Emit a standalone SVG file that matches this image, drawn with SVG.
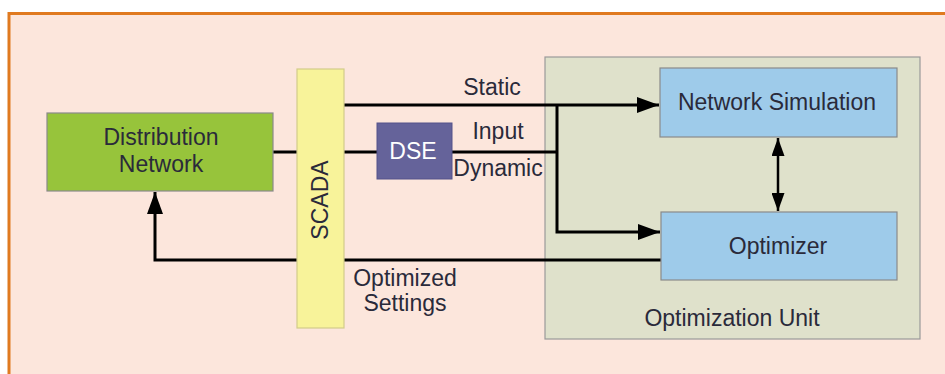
<svg xmlns="http://www.w3.org/2000/svg" width="945" height="374" viewBox="0 0 945 374">
<defs>
<style>
text{font-family:"Liberation Sans",Arial,sans-serif;font-size:23px;fill:#2a2a3a}
.c{stroke:#000;stroke-width:3;fill:none}
.box{stroke:#8a8a8a;stroke-width:1.2}
</style>
<marker id="ahL" viewBox="0 0 10 10" refX="10" refY="5" markerWidth="22" markerHeight="16" markerUnits="userSpaceOnUse" orient="auto-start-reverse" preserveAspectRatio="none"><path d="M0,0 L10,5 L0,10 z" fill="#000"/></marker>
<marker id="ahS" viewBox="0 0 10 10" refX="10" refY="5" markerWidth="18" markerHeight="13" markerUnits="userSpaceOnUse" orient="auto-start-reverse" preserveAspectRatio="none"><path d="M0,0 L10,5 L0,10 z" fill="#000"/></marker>
</defs>
<rect x="0" y="0" width="945" height="374" fill="#fff"/>
<rect x="10" y="14" width="940" height="365" fill="#fce6dc"/>
<path d="M9,374 V13.5 H945" stroke="#e07a20" stroke-width="3" fill="none"/>

<g id="optimization-unit">
<rect x="545" y="57" width="375" height="282" fill="#dfe1cb" stroke="#9a9a9a" stroke-width="1.2"/>
<text x="732" y="326" text-anchor="middle">Optimization Unit</text>
</g>

<g id="connectors">
<path class="c" d="M344,105 H659" marker-end="url(#ahL)"/>
<path class="c" d="M557,105 V232 H660" marker-end="url(#ahL)"/>
<path class="c" d="M273,152 H297"/>
<path class="c" d="M344,152 H377"/>
<path class="c" d="M452,152 H557"/>
<path class="c" d="M661,260 H155 V192" marker-end="url(#ahL)"/>
<path stroke="#000" stroke-width="2.5" fill="none" d="M778,138 V211" marker-start="url(#ahS)" marker-end="url(#ahS)"/>
</g>

<g id="distribution-network">
<rect class="box" x="47" y="113" width="226" height="78" fill="#97c43b"/>
<text x="161" y="145" text-anchor="middle">Distribution</text>
<text x="161" y="172" text-anchor="middle">Network</text>
</g>

<g id="scada">
<rect x="297" y="69" width="47" height="259" fill="#f8f39a" stroke="#d2cc8a" stroke-width="1.2"/>
<text transform="translate(328,200) rotate(-90)" text-anchor="middle">SCADA</text>
</g>

<g id="dse">
<rect x="377" y="123" width="75" height="56" fill="#65639a" stroke="#55538a" stroke-width="1"/>
<text x="413" y="159" text-anchor="middle" style="fill:#fff">DSE</text>
</g>

<g id="labels">
<text x="492" y="95" text-anchor="middle">Static</text>
<text x="498" y="139" text-anchor="middle">Input</text>
<text x="498" y="176" text-anchor="middle">Dynamic</text>
<text x="405" y="286" text-anchor="middle">Optimized</text>
<text x="405" y="311" text-anchor="middle">Settings</text>
</g>

<g id="network-simulation">
<rect class="box" x="660" y="68" width="237" height="69" fill="#9ecbea"/>
<text x="777" y="110" text-anchor="middle">Network Simulation</text>
</g>

<g id="optimizer">
<rect class="box" x="661" y="212" width="236" height="68" fill="#9ecbea"/>
<text x="778" y="254" text-anchor="middle">Optimizer</text>
</g>
</svg>
